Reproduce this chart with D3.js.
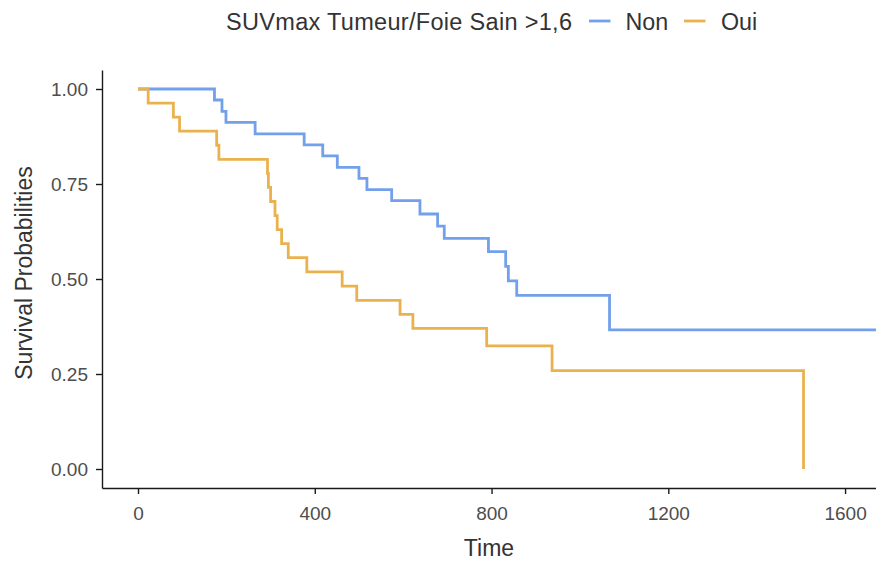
<!DOCTYPE html>
<html>
<head>
<meta charset="utf-8">
<script src="https://cdn.jsdelivr.net/npm/d3@7"></script>
<style>
  html, body { margin: 0; padding: 0; background: #ffffff; }
  svg { display: block; font-family: "Liberation Sans", Arial, sans-serif; }
</style>
</head>
<body>
<svg id="chart" width="876" height="563"></svg>
<script>
// ---- data ----
const groups = ["Non", "Oui"];
const legendTitle = "SUVmax Tumeur/Foie Sain >1,6";
const nonTimes = [0, 173, 190, 199, 265, 376, 418, 451, 500, 518, 574, 638, 678, 693, 793, 832, 838, 857, 1067, 1670];
const nonSurv  = [1, 0.971, 0.941, 0.912, 0.882, 0.853, 0.824, 0.794, 0.765, 0.735, 0.706, 0.671, 0.639, 0.607, 0.572, 0.533, 0.495, 0.457, 0.366, 0.366];
const ouiTimes = [0, 23, 80, 94, 178, 183, 293, 295, 300, 310, 315, 325, 340, 382, 462, 495, 593, 622, 789, 937, 1506];
const ouiSurv  = [1, 0.963, 0.926, 0.889, 0.852, 0.815, 0.778, 0.741, 0.704, 0.667, 0.630, 0.593, 0.556, 0.519, 0.481, 0.444, 0.407, 0.370, 0.324, 0.259, 0];
const xTicks = [0, 400, 800, 1200, 1600];
const yTicks = [0, 0.25, 0.5, 0.75, 1];
const xTitle = "Time";
const yTitle = "Survival Probabilities";
const colors = ["#72A0EA", "#EAB24F"];

// ---- layout ----
const svg = d3.select("#chart");
const panel = { left: 102, right: 876, top: 70, bottom: 488 };

const x = d3.scaleLinear()
  .domain([-81.5, 1670])
  .range([panel.left, panel.right]);
const y = d3.scaleLinear()
  .domain([-0.05, 1.05])
  .range([panel.bottom, panel.top]);

svg.append("defs").append("clipPath").attr("id", "clip")
  .append("rect")
  .attr("x", panel.left).attr("y", panel.top - 5)
  .attr("width", panel.right - panel.left).attr("height", panel.bottom - panel.top + 5);

// ---- curves ----
const series = [
  { name: groups[0], times: nonTimes, surv: nonSurv, color: colors[0] },
  { name: groups[1], times: ouiTimes, surv: ouiSurv, color: colors[1] }
];
const line = d3.line()
  .x(d => x(d[0]))
  .y(d => y(d[1]))
  .curve(d3.curveStepAfter);

const curves = svg.append("g").attr("clip-path", "url(#clip)");
series.forEach(s => {
  const pts = s.times.map((t, i) => [t, s.surv[i]]);
  curves.append("path")
    .datum(pts)
    .attr("fill", "none")
    .attr("stroke", s.color)
    .attr("stroke-width", 2.8)
    .attr("stroke-linejoin", "miter")
    .attr("d", line);
});

// ---- axes ----
const xAxis = svg.append("g")
  .attr("transform", `translate(0,${panel.bottom})`)
  .call(d3.axisBottom(x).tickValues(xTicks).tickFormat(d3.format("d")).tickSize(6).tickPadding(8).tickSizeOuter(0));
const yAxis = svg.append("g")
  .attr("transform", `translate(${panel.left},0)`)
  .call(d3.axisLeft(y).tickValues(yTicks).tickFormat(d3.format(".2f")).tickSize(6).tickPadding(8).tickSizeOuter(0));

[xAxis, yAxis].forEach(a => {
  a.select(".domain").attr("stroke", "#1a1a1a").attr("stroke-width", 1.4);
  a.selectAll(".tick line").attr("stroke", "#1a1a1a").attr("stroke-width", 1.4);
  a.selectAll(".tick text")
    .attr("fill", "#4d4d4d")
    .style("font-size", "19px")
    .style("font-family", "'Liberation Sans', Arial, sans-serif");
});
xAxis.selectAll(".tick text").attr("dy", "0.95em");

// ---- axis titles ----
svg.append("text")
  .attr("x", (panel.left + panel.right) / 2)
  .attr("y", 556)
  .attr("text-anchor", "middle")
  .attr("fill", "#333333")
  .style("font-size", "23px")
  .text(xTitle);

svg.append("text")
  .attr("transform", `translate(32,273) rotate(-90)`)
  .attr("text-anchor", "middle")
  .attr("fill", "#333333")
  .style("font-size", "23px")
  .text(yTitle);

// ---- legend ----
const legend = svg.append("g");
legend.append("text")
  .attr("x", 226).attr("y", 30)
  .attr("fill", "#333333")
  .style("font-size", "23.5px")
  .attr("textLength", 346)
  .attr("lengthAdjust", "spacing")
  .text(legendTitle);

const keyX = [589, 684];
const labelX = [625.5, 721];
series.forEach((s, i) => {
  legend.append("line")
    .attr("x1", keyX[i]).attr("x2", keyX[i] + 21.5)
    .attr("y1", 21).attr("y2", 21)
    .attr("stroke", s.color).attr("stroke-width", 2.8);
  legend.append("text")
    .attr("x", labelX[i]).attr("y", 30)
    .attr("fill", "#333333")
    .style("font-size", "23.3px")
    .text(s.name);
});
</script>
</body>
</html>
